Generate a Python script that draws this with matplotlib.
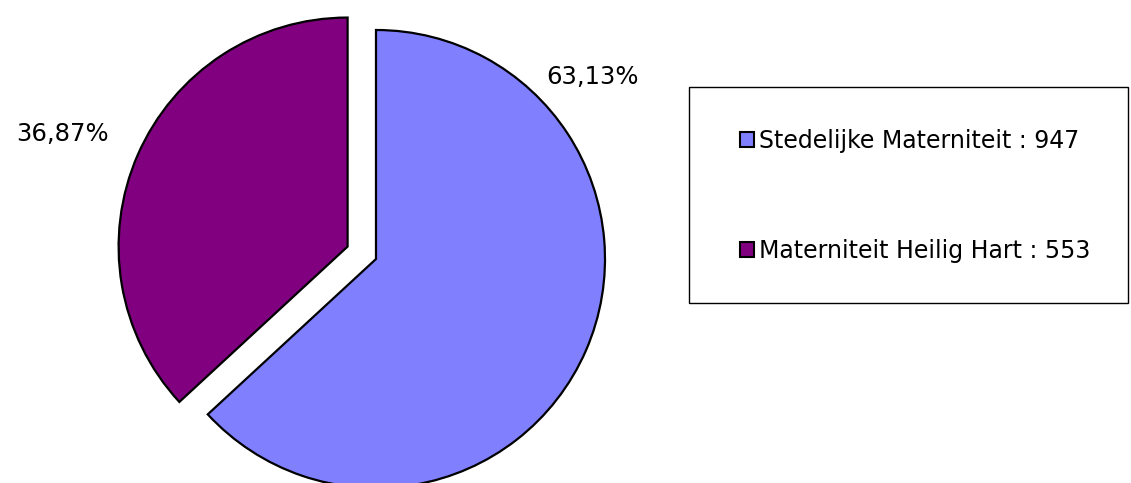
import matplotlib
matplotlib.use("Agg")
import matplotlib.pyplot as plt
from matplotlib.patches import Rectangle

categories = ["Stedelijke Materniteit", "Materniteit Heilig Hart"]
values = [947, 553]
colors = ["#8080FF", "#800080"]

W, H = 1131, 483
fig = plt.figure(figsize=(W / 100, H / 100), dpi=100)
ax = fig.add_axes([0, 0, 1, 1])
plt.rcParams['font.family'] = ['DejaVu Sans']

cx, cy, R = 376, H - 259, 229
wedges, _ = ax.pie(values, colors=colors, startangle=90, counterclock=False,
                   explode=[0, 31], radius=R, center=(cx, cy),
                   wedgeprops=dict(edgecolor="black", linewidth=1.6),
                   frame=True)
ax.set_xlim(0, W)
ax.set_ylim(0, H)
ax.set_aspect('auto')
ax.axis('off')

total = sum(values)
pcts = [f"{v / total * 100:.2f}".replace('.', ',') + "%" for v in values]
label_pos = [(cx + 217, cy + 182), (cx - 314, cy + 125)]
for txt, (x, y) in zip(pcts, label_pos):
    ax.text(x, y, txt, ha='center', va='center', fontsize=17.5, color='black')

# legend frame
fig.patches.append(Rectangle((689 / W, 1 - 303 / H), (1128 - 689) / W, (303 - 87) / H,
                             transform=fig.transFigure, facecolor='white',
                             edgecolor='black', linewidth=1.0, zorder=0))
leg_labels = [f"{c} : {v}" for c, v in zip(categories, values)]
leg = fig.legend(wedges, leg_labels, loc='center left',
                 bbox_to_anchor=(728 / W, 1 - 196 / H), frameon=False,
                 fontsize=17, handlelength=0.6, handleheight=0.6,
                 handletextpad=0.2, labelspacing=3.62, borderpad=0)
for h in leg.legend_handles:
    h.set_linewidth(1.5)

fig.savefig("out.png", dpi=100)
